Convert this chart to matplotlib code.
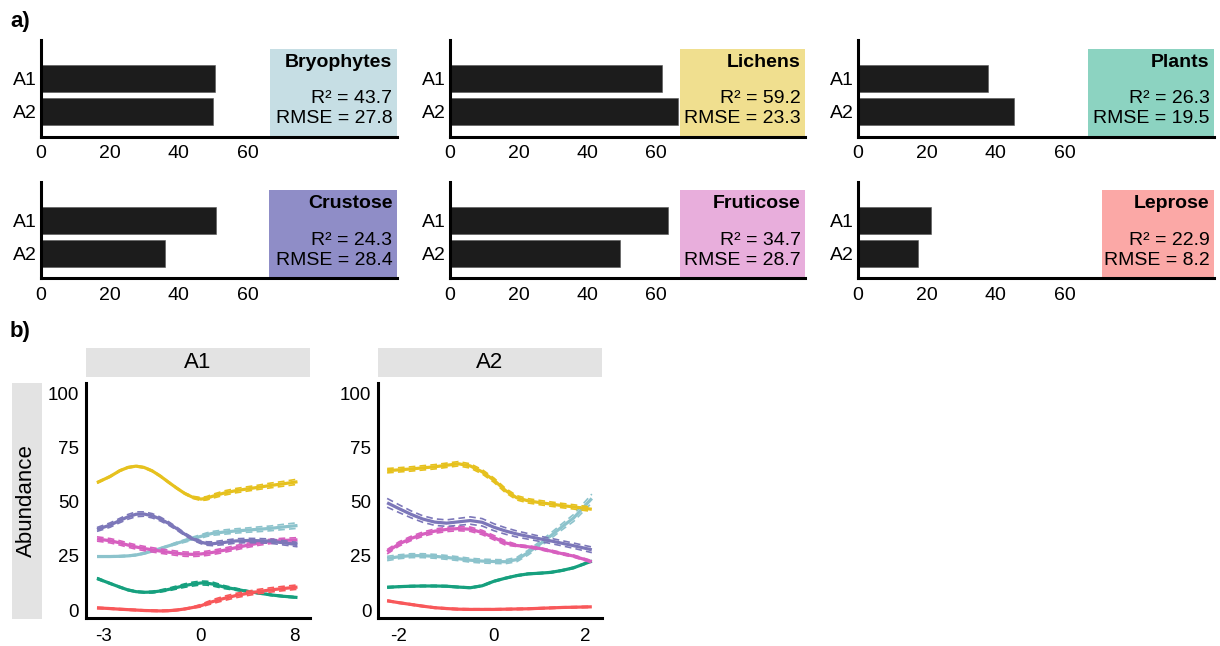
import numpy as np
import matplotlib
matplotlib.use("Agg")
import matplotlib.pyplot as plt
from matplotlib.patches import Rectangle
from matplotlib.transforms import blended_transform_factory

plt.rcParams['font.family'] = ['Liberation Sans', 'DejaVu Sans']

# ---------------- data: panel a ----------------
groups = ["Bryophytes", "Lichens", "Plants", "Crustose", "Fruticose", "Leprose"]
bar_labels = ["A1", "A2"]
imp_A1 = [50.6, 61.6, 37.7, 50.7, 63.4, 21.3]
imp_A2 = [49.9, 66.3, 45.3, 36.1, 49.5, 17.4]
r2_vals = [43.7, 59.2, 26.3, 24.3, 34.7, 22.9]
rmse_vals = [27.8, 23.3, 19.5, 28.4, 28.7, 8.2]
x_ticks_a = [0, 20, 40, 60]

box_colors = ["#C6DEE4", "#F0DF8F", "#8CD3C1", "#8F8DC7", "#E8AEDC", "#FBA8A6"]
line_colors = ["#8CC3CC", "#E6C11E", "#16A07E", "#7C77B9", "#D75FBF", "#F8585A"]

# ---------------- data: panel b ----------------
facets = ["A1", "A2"]
y_ticks_b = [0, 25, 50, 75, 100]
a1_ticks = [-3, 0, 8]
a2_ticks = [-2, 0, 2]

a1_x = [-3.2, -2.8, -2.5, -2.25, -2, -1.75, -1.5, -1.25, -1, -0.75, -0.5, -0.25,
        0, 0.5, 1, 2, 3, 4, 5, 6, 7, 8.3]
a1_bryophytes = [24.7, 24.7, 24.8, 25.0, 25.4, 26.2, 27.2, 28.4, 29.6, 30.8, 31.9, 33.0,
                 34.0, 34.8, 35.4, 36.0, 36.5, 36.9, 37.3, 37.7, 38.3, 39.0]
a1_lichens = [58.8, 61.6, 64.3, 65.8, 66.4, 65.8, 64.2, 61.8, 59.0, 56.3, 53.8, 52.0,
              51.2, 51.6, 52.5, 54.0, 55.1, 55.9, 56.7, 57.5, 58.2, 59.2]
a1_plants = [14.6, 12.3, 10.6, 9.3, 8.5, 8.2, 8.3, 8.8, 9.5, 10.4, 11.3, 12.0,
             12.5, 12.4, 12.0, 10.6, 9.6, 8.6, 7.8, 7.0, 6.4, 5.8]
a1_crustose = [37.2, 39.2, 41.3, 43.0, 44.2, 44.3, 43.5, 42.0, 40.0, 37.6, 35.0, 32.8,
               31.3, 30.7, 30.6, 31.2, 31.9, 32.1, 32.0, 31.8, 31.1, 30.2]
a1_fruticose = [32.8, 32.0, 31.0, 30.0, 29.1, 28.4, 27.8, 27.2, 26.7, 26.2, 25.8, 25.7,
                25.9, 26.2, 26.6, 27.6, 28.8, 29.9, 30.9, 31.7, 32.1, 32.4]
a1_leprose = [1.0, 0.7, 0.4, 0.2, 0.0, -0.2, -0.3, -0.4, -0.3, 0.0, 0.5, 1.2,
              2.0, 3.0, 3.9, 5.4, 6.7, 7.7, 8.6, 9.3, 9.9, 10.6]

# half-width of the confidence band (dashed lines)
a1_ci_bryophytes = [0.3, 0.3, 0.3, 0.3, 0.3, 0.3, 0.3, 0.3, 0.3, 0.5, 0.6, 0.7,
                    0.8, 0.85, 0.9, 1.0, 1.0, 1.0, 1.1, 1.1, 1.2, 1.3]
a1_ci_lichens = [0.3, 0.3, 0.3, 0.3, 0.3, 0.3, 0.3, 0.3, 0.3, 0.3, 0.3, 0.5,
                 0.7, 0.8, 0.9, 1.0, 1.0, 1.0, 1.0, 1.1, 1.1, 1.2]
a1_ci_plants = [0.4, 0.3, 0.3, 0.3, 0.3, 0.3, 0.4, 0.5, 0.6, 0.7, 0.8, 0.9,
                0.9, 0.9, 0.9, 0.7, 0.5, 0.4, 0.3, 0.3, 0.3, 0.3]
a1_ci_crustose = [0.9, 1.0, 1.0, 1.1, 1.1, 1.0, 1.0, 0.9, 0.8, 0.7, 0.6, 0.6,
                  0.7, 0.8, 0.9, 1.0, 1.0, 1.0, 1.0, 1.0, 1.0, 1.0]
a1_ci_fruticose = [1.0, 1.0, 1.0, 1.0, 1.0, 1.0, 1.0, 1.0, 1.0, 1.0, 1.0, 1.0,
                   1.0, 1.0, 1.0, 1.0, 1.0, 1.0, 1.0, 1.0, 1.0, 1.0]
a1_ci_leprose = [0.3, 0.3, 0.3, 0.3, 0.3, 0.3, 0.3, 0.3, 0.3, 0.3, 0.3, 0.3,
                 0.6, 0.75, 0.9, 1.0, 1.0, 1.0, 1.0, 1.0, 1.0, 1.0]

a2_x = [-2.25, -2, -1.75, -1.5, -1.25, -1, -0.75, -0.5, -0.25, 0, 0.25, 0.5, 0.75, 1, 1.25, 1.5, 1.75, 2.15]
a2_bryophytes = [23.8, 24.6, 25.1, 25.1, 24.8, 24.3, 23.7, 23.0, 22.6, 22.4, 22.3, 23.3, 26.5, 30.3, 34.3, 38.5, 42.5, 51.5]
a2_lichens = [64.3, 64.7, 65.1, 65.6, 66.1, 66.8, 67.5, 66.5, 63.8, 59.9, 55.2, 51.8, 50.4, 49.6, 48.9, 48.2, 47.6, 46.5]
a2_plants = [10.5, 10.8, 11.0, 11.1, 11.1, 11.0, 10.6, 10.3, 11.2, 13.3, 14.7, 15.9, 16.7, 17.0, 17.4, 18.3, 19.5, 22.6]
a2_crustose = [49.5, 46.8, 44.2, 42.0, 40.6, 40.1, 40.7, 41.3, 40.5, 38.2, 36.5, 35.1, 34.0, 32.9, 31.9, 30.8, 29.7, 27.8]
a2_fruticose = [26.9, 30.5, 33.0, 35.0, 36.4, 37.2, 37.6, 37.3, 35.8, 33.4, 31.0, 29.8, 29.2, 28.4, 27.2, 26.0, 24.9, 22.3]
a2_leprose = [4.3, 3.4, 2.6, 1.8, 1.1, 0.7, 0.4, 0.3, 0.3, 0.3, 0.4, 0.5, 0.6, 0.8, 1.0, 1.2, 1.3, 1.5]

a2_ci_bryophytes = [1.0, 0.9, 0.9, 0.9, 0.9, 0.9, 0.9, 0.9, 0.9, 0.9, 0.9, 1.0, 1.1, 1.2, 1.3, 1.4, 1.6, 2.0]
a2_ci_lichens = [1.0, 1.0, 1.0, 1.0, 1.0, 1.0, 1.0, 1.0, 1.0, 1.0, 1.0, 1.0, 1.0, 1.0, 1.0, 1.0, 1.0, 1.0]
a2_ci_plants = [0.3, 0.3, 0.3, 0.3, 0.3, 0.3, 0.3, 0.3, 0.3, 0.3, 0.3, 0.3, 0.3, 0.3, 0.3, 0.3, 0.3, 0.3]
a2_ci_crustose = [2.0, 1.8, 1.6, 1.5, 1.5, 1.5, 1.6, 1.7, 1.7, 1.6, 1.5, 1.4, 1.3, 1.2, 1.2, 1.2, 1.2, 1.3]
a2_ci_fruticose = [1.0, 1.0, 1.0, 1.0, 1.0, 1.0, 1.0, 1.0, 1.0, 1.0, 1.0, 0.5, 0.5, 0.5, 0.5, 0.5, 0.5, 0.5]
a2_ci_leprose = [0.3, 0.3, 0.3, 0.3, 0.3, 0.3, 0.3, 0.3, 0.3, 0.3, 0.3, 0.3, 0.3, 0.3, 0.3, 0.3, 0.3, 0.3]

# ---------------- figure ----------------
W, H = 1220, 646
fig = plt.figure(figsize=(W / 100, H / 100), dpi=100)


def rect(l, t, r, b):
    return [l / W, 1 - b / H, (r - l) / W, (b - t) / H]


AX_LW = 2.2
FS = 14

# panel a
lefts = [41, 450, 858]
rights = [396.7, 805, 1214]
rows = [(40, 136.7), (181.7, 278.3)]
box_lefts = [66.4, 66.8, 66.8, 66.3, 66.8, 70.8]
XMAX = 103.3

for i, g in enumerate(groups):
    r, c = divmod(i, 3)
    t, b = rows[r]
    ax = fig.add_axes(rect(lefts[c], t, rights[c], b))
    ypos = [1, 0]
    ax.barh(ypos, [imp_A1[i], imp_A2[i]], height=0.83, color="#1C1C1C",
            edgecolor="#555555", linewidth=0.4, zorder=3)
    ax.set_xlim(0, XMAX)
    ax.set_ylim(-0.76, 2.17)
    ax.set_yticks(ypos)
    ax.set_yticklabels(bar_labels)
    ax.set_xticks(x_ticks_a)
    ax.tick_params(length=0, labelsize=FS)
    ax.tick_params(axis='x', pad=6)
    ax.tick_params(axis='y', pad=3)
    for s in ["top", "right"]:
        ax.spines[s].set_visible(False)
    for s in ["left", "bottom"]:
        ax.spines[s].set_linewidth(AX_LW)
        ax.spines[s].set_zorder(5)
    tr = blended_transform_factory(ax.transData, ax.transAxes)
    ax.add_patch(Rectangle((box_lefts[i], 0), XMAX - box_lefts[i], 0.91,
                           transform=tr, facecolor=box_colors[i],
                           edgecolor="none", zorder=1, clip_on=False))
    ax.text(0.988, 0.772, g, transform=ax.transAxes, ha="right", va="center",
            fontsize=FS, fontweight="bold", zorder=4)
    ax.text(0.988, 0.39, f"R\u00b2 = {r2_vals[i]}", transform=ax.transAxes,
            ha="right", va="center", fontsize=FS, zorder=4)
    ax.text(0.988, 0.185, f"RMSE = {rmse_vals[i]}", transform=ax.transAxes,
            ha="right", va="center", fontsize=FS, zorder=4)

fig.text(10 / W, 1 - 21 / H, "a)", fontsize=16, fontweight="bold",
         ha="left", va="center")
fig.text(10 / W, 1 - 331 / H, "b)", fontsize=16, fontweight="bold",
         ha="left", va="center")


# panel b
def piecewise(kx, ku):
    kx = np.asarray(kx, float)
    ku = np.asarray(ku, float)

    def build(a, b):
        s0 = (b[1] - b[0]) / (a[1] - a[0])
        s1 = (b[-1] - b[-2]) / (a[-1] - a[-2])

        def f(x):
            x = np.asarray(x, float)
            y = np.interp(x, a, b)
            y = np.where(x < a[0], b[0] + (x - a[0]) * s0, y)
            y = np.where(x > a[-1], b[-1] + (x - a[-1]) * s1, y)
            return y
        return f
    return build(kx, ku), build(ku, kx)


a1_curves = [a1_bryophytes, a1_lichens, a1_plants, a1_crustose, a1_fruticose, a1_leprose]
a1_cis = [a1_ci_bryophytes, a1_ci_lichens, a1_ci_plants, a1_ci_crustose, a1_ci_fruticose, a1_ci_leprose]
a2_curves = [a2_bryophytes, a2_lichens, a2_plants, a2_crustose, a2_fruticose, a2_leprose]
a2_cis = [a2_ci_bryophytes, a2_ci_lichens, a2_ci_plants, a2_ci_crustose, a2_ci_fruticose, a2_ci_leprose]

panel_specs = [
    dict(l=86, r=310, ticks=a1_ticks, knots_u=[103.5, 201, 294], x=a1_x,
         curves=a1_curves, ci=a1_cis),
    dict(l=378.3, r=601.7, ticks=a2_ticks, knots_u=[399, 494, 585], x=a2_x,
         curves=a2_curves, ci=a2_cis),
]
order = [2, 5, 0, 4, 3, 1]
for k, spec in enumerate(panel_specs):
    ax = fig.add_axes(rect(spec["l"], 382.7, spec["r"], 618.3))
    fwd, inv = piecewise(spec["ticks"], spec["knots_u"])
    ax.set_xscale("function", functions=(fwd, inv))
    ax.set_xlim(inv(spec["l"]), inv(spec["r"]))
    ax.set_ylim(-3.8, 104.9)
    x = np.asarray(spec["x"])
    for j in order:
        y = np.asarray(spec["curves"][j])
        ci = np.asarray(spec["ci"][j])
        col = line_colors[j]
        ax.plot(x, y + ci, color=col, lw=1.2, ls=(0, (4, 2.5)), zorder=3)
        ax.plot(x, y - ci, color=col, lw=1.2, ls=(0, (4, 2.5)), zorder=3)
        ax.plot(x, y, color=col, lw=2.3, solid_capstyle="butt",
                solid_joinstyle="round", zorder=3)
    ax.set_xticks(spec["ticks"])
    ax.set_xticklabels([str(v) for v in spec["ticks"]])
    ax.set_yticks(y_ticks_b)
    ax.tick_params(length=0, labelsize=13.5)
    ax.tick_params(axis="x", pad=7)
    ax.tick_params(axis="y", pad=5)
    for s in ["top", "right"]:
        ax.spines[s].set_visible(False)
    for s in ["left", "bottom"]:
        ax.spines[s].set_linewidth(AX_LW)
    # facet strip
    sl = spec["l"] if k == 0 else 377.7
    sax = fig.add_axes(rect(sl, 348.3, spec["r"], 377.3))
    sax.set_facecolor("#E3E3E3")
    sax.set_xticks([])
    sax.set_yticks([])
    for s in sax.spines.values():
        s.set_visible(False)
    sax.text(0.5, 0.5, facets[k], ha="center", va="center", fontsize=16,
             transform=sax.transAxes)

# y label strip
yax = fig.add_axes(rect(11.7, 382.7, 41.7, 619.3))
yax.set_facecolor("#E3E3E3")
yax.set_xticks([])
yax.set_yticks([])
for s in yax.spines.values():
    s.set_visible(False)
yax.text(0.5, 0.5, "Abundance", rotation=90, ha="center", va="center",
         fontsize=16, transform=yax.transAxes)

fig.savefig("out.png", dpi=100, facecolor="white")
